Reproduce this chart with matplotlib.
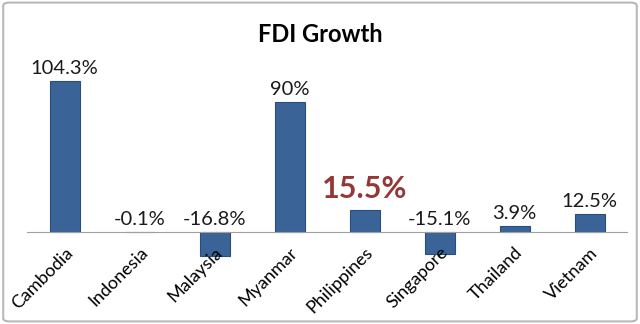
import matplotlib.pyplot as plt
from matplotlib.patches import FancyBboxPatch

plt.rcParams['font.family'] = ['Lato', 'DejaVu Sans']

countries = ['Cambodia', 'Indonesia', 'Malaysia', 'Myanmar',
             'Philippines', 'Singapore', 'Thailand', 'Vietnam']
growth = [104.3, -0.1, -16.8, 90, 15.5, -15.1, 3.9, 12.5]
highlight = 'Philippines'

fig = plt.figure(figsize=(6.4, 3.24), dpi=100)
ax = fig.add_axes([27/640, 0.15, 600/640, 0.67])

x = range(len(countries))
ax.bar(x, growth, width=0.4, color='#3A6497', edgecolor='#2A4E7C', linewidth=0.8)
ax.set_xlim(-0.5, len(countries) - 0.5)
ax.set_ylim(-30, 120)

# value labels: above the bar for gains, above the zero line for losses
for i, (c, v) in enumerate(zip(countries, growth)):
    base = max(v, 0)
    if c == highlight:
        ax.annotate(f'{v:g}%', (i, base), xytext=(0, 5), textcoords='offset points',
                    ha='center', va='bottom', fontsize=22, fontweight='bold', color='#953735')
    else:
        ax.annotate(f'{v:g}%', (i, base), xytext=(0, 3), textcoords='offset points',
                    ha='center', va='bottom', fontsize=14.5, color='#1a1a1a')

for s in ['top', 'right', 'left']:
    ax.spines[s].set_visible(False)
ax.spines['bottom'].set_position(('data', 0))
ax.spines['bottom'].set_color('#A0A0A0')
ax.set_yticks([])
ax.set_xticks(list(x))
ax.set_xticklabels(countries, rotation=45, ha='right', rotation_mode='anchor', fontsize=13)
ax.tick_params(axis='x', length=0, pad=9)

fig.text(0.5, 0.895, 'FDI Growth', ha='center', va='center', fontsize=17, fontweight='bold')

frame = FancyBboxPatch((0.005, 0.008), 0.99, 0.984, boxstyle='round,pad=0,rounding_size=0.01',
                       transform=fig.transFigure, fill=False, edgecolor='#B8B8B8', linewidth=1.5)
fig.patches.append(frame)

fig.savefig('out.png', dpi=100)
